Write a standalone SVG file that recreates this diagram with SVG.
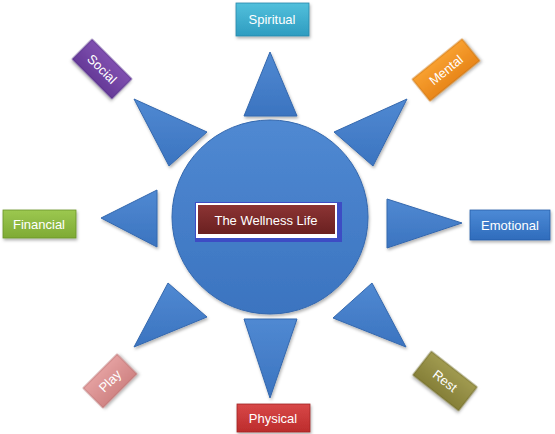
<svg xmlns="http://www.w3.org/2000/svg" width="555" height="434" viewBox="0 0 555 434">
<defs>
<linearGradient id="gBlue" x1="0" y1="0" x2="0" y2="1"><stop offset="0" stop-color="#5089d2"/><stop offset="1" stop-color="#3b74c0"/></linearGradient>
<linearGradient id="gTeal" x1="0" y1="0" x2="0" y2="1"><stop offset="0" stop-color="#52c0dc"/><stop offset="1" stop-color="#2e9cc0"/></linearGradient>
<linearGradient id="gOrange" x1="0" y1="0" x2="0" y2="1"><stop offset="0" stop-color="#f8a030"/><stop offset="1" stop-color="#e8861a"/></linearGradient>
<linearGradient id="gEmo" x1="0" y1="0" x2="0" y2="1"><stop offset="0" stop-color="#4c8ad6"/><stop offset="1" stop-color="#2f6cbc"/></linearGradient>
<linearGradient id="gRest" x1="0" y1="0" x2="0" y2="1"><stop offset="0" stop-color="#a09a50"/><stop offset="1" stop-color="#857f38"/></linearGradient>
<linearGradient id="gRed" x1="0" y1="0" x2="0" y2="1"><stop offset="0" stop-color="#d84848"/><stop offset="1" stop-color="#bc2c2c"/></linearGradient>
<linearGradient id="gPink" x1="0" y1="0" x2="0" y2="1"><stop offset="0" stop-color="#e4a0a0"/><stop offset="1" stop-color="#d08484"/></linearGradient>
<linearGradient id="gGreen" x1="0" y1="0" x2="0" y2="1"><stop offset="0" stop-color="#9cc850"/><stop offset="1" stop-color="#7eaa34"/></linearGradient>
<linearGradient id="gPurple" x1="0" y1="0" x2="0" y2="1"><stop offset="0" stop-color="#8050b0"/><stop offset="1" stop-color="#663a98"/></linearGradient>
<linearGradient id="gMaroon" x1="0" y1="0" x2="0" y2="1"><stop offset="0" stop-color="#8c3434"/><stop offset="1" stop-color="#6a2020"/></linearGradient>
<filter id="sh" x="-20%" y="-20%" width="140%" height="140%"><feDropShadow dx="1" dy="2" stdDeviation="1.5" flood-color="#000" flood-opacity="0.3"/></filter>
</defs>
<style>
.tri{fill:url(#gBlue);stroke:#3468ae;stroke-width:1;stroke-linejoin:round;filter:url(#sh)}
.box{stroke-width:0.8;filter:url(#sh)}
.lbl{font-family:"Liberation Sans",Arial,sans-serif;font-size:13px;fill:#ffffff;text-anchor:middle;dominant-baseline:central}
</style>
<rect width="555" height="434" fill="#ffffff"/>
<g id="connectors">
<polygon class="tri" points="270,52 297,116 244,116"/>
<polygon class="tri" points="270,398 244,319 297,319"/>
<polygon class="tri" points="101,218 157,190 157,247"/>
<polygon class="tri" points="462,223 387,199 387,248"/>
<polygon class="tri" points="134,99 207,132 169,166"/>
<polygon class="tri" points="407,99 334,132 373,166"/>
<polygon class="tri" points="134,347 168,283 207,317"/>
<polygon class="tri" points="406,347 372,283 333,318"/>
</g>
<g id="hub">
<ellipse cx="270" cy="217" rx="98" ry="97" fill="url(#gBlue)" stroke="#3468ae" stroke-width="1" filter="url(#sh)"/>
<rect x="195" y="202" width="147" height="40" fill="#3d4cc4"/>
<rect x="196" y="203" width="141" height="35" fill="#ffffff"/>
<rect x="198" y="205" width="137" height="29" fill="url(#gMaroon)"/>
<text class="lbl" x="266" y="220">The Wellness Life</text>
</g>
<g id="spiritual">
<rect class="box" x="236" y="3" width="73" height="33" fill="url(#gTeal)" stroke="#2a88aa"/>
<text class="lbl" x="272" y="19">Spiritual</text>
</g>
<g id="mental" transform="translate(446,70) rotate(-39)">
<rect class="box" x="-32" y="-14" width="64" height="28" fill="url(#gOrange)" stroke="#c87010"/>
<text class="lbl" x="0" y="0">Mental</text>
</g>
<g id="emotional">
<rect class="box" x="470" y="210" width="80" height="30" fill="url(#gEmo)" stroke="#275ea8"/>
<text class="lbl" x="510" y="225">Emotional</text>
</g>
<g id="rest" transform="translate(445,381) rotate(38)">
<rect class="box" x="-29" y="-15" width="58" height="30" fill="url(#gRest)" stroke="#6e6a2a"/>
<text class="lbl" x="0" y="0">Rest</text>
</g>
<g id="physical">
<rect class="box" x="237" y="404" width="73" height="28" fill="url(#gRed)" stroke="#a02424"/>
<text class="lbl" x="273" y="418">Physical</text>
</g>
<g id="play" transform="translate(110,381) rotate(-45)">
<rect class="box" x="-24" y="-14" width="48" height="28" fill="url(#gPink)" stroke="#b87070"/>
<text class="lbl" x="0" y="0">Play</text>
</g>
<g id="financial">
<rect class="box" x="3" y="210" width="73" height="28" fill="url(#gGreen)" stroke="#6a9428"/>
<text class="lbl" x="39" y="224">Financial</text>
</g>
<g id="social" transform="translate(102,69) rotate(45)">
<rect class="box" x="-28" y="-14" width="56" height="28" fill="url(#gPurple)" stroke="#56308a"/>
<text class="lbl" x="0" y="0">Social</text>
</g>
</svg>
